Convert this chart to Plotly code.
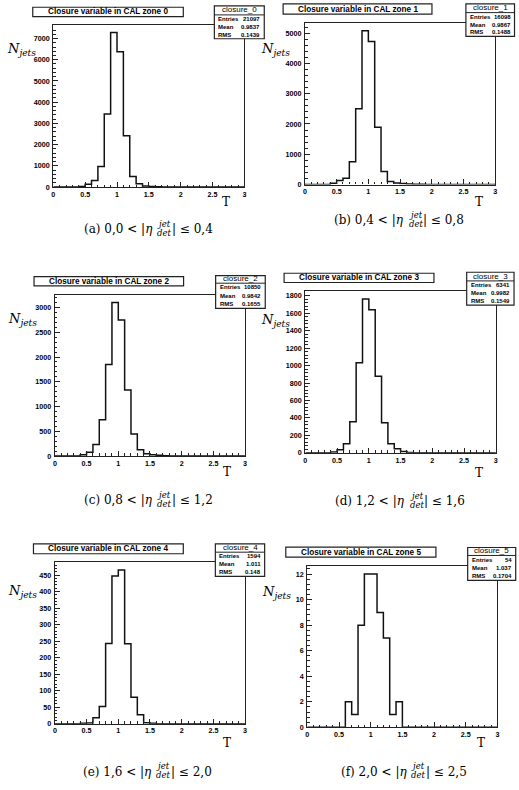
import plotly.graph_objects as go

W, H = 519, 790

# ---------------- data ----------------
bin_edges = [round(i * 0.1, 1) for i in range(31)]  # T from 0 to 3, width 0.1

closure_0 = [0, 0, 0, 0, 30, 130, 310, 970, 3440, 7280, 6380, 2420, 500, 160, 50,
             30, 20, 10, 5, 3, 2, 0, 0, 0, 0, 0, 0, 0, 0, 0]
closure_1 = [0, 0, 0, 0, 40, 130, 210, 755, 2505, 5077, 4726, 1893, 427, 100, 50,
             30, 20, 10, 5, 0, 0, 0, 0, 0, 0, 0, 0, 0, 0, 0]
closure_2 = [0, 0, 0, 0, 27, 80, 233, 733, 1847, 3100, 2747, 1333, 447, 127, 47,
             27, 15, 8, 4, 0, 0, 0, 0, 0, 0, 0, 0, 0, 0, 0]
closure_3 = [0, 0, 0, 0, 8, 34, 103, 357, 1033, 1762, 1641, 877, 346, 103, 46,
             15, 5, 2, 0, 0, 0, 0, 0, 0, 0, 0, 0, 0, 0, 0]
closure_4 = [0, 0, 0, 0, 1, 2, 18, 52, 243, 447, 465, 242, 80, 27, 3,
             1, 0, 0, 0, 0, 0, 0, 0, 0, 0, 0, 0, 0, 0, 0]
closure_5 = [0, 0, 0, 0, 0, 0, 2, 1, 8, 12, 12, 9, 7, 1, 2,
             0, 0, 0, 0, 0, 0, 0, 0, 0, 0, 0, 0, 0, 0, 0]

hist_names = ["closure_0", "closure_1", "closure_2", "closure_3", "closure_4", "closure_5"]
titles = ["Closure variable in CAL zone 0", "Closure variable in CAL zone 1",
          "Closure variable in CAL zone 2", "Closure variable in CAL zone 3",
          "Closure variable in CAL zone 4", "Closure variable in CAL zone 5"]
entries = ["21097", "16098", "10850", "6341", "1594", "54"]
means = ["0.9837", "0.9867", "0.9842", "0.9982", "1.011", "1.037"]
rms = ["0.1439", "0.1488", "0.1655", "0.1549", "0.148", "0.1704"]
cap_letters = ["(a)", "(b)", "(c)", "(d)", "(e)", "(f)"]
eta_low = ["0,0", "0,4", "0,8", "1,2", "1,6", "2,0"]
eta_high = ["0,4", "0,8", "1,2", "1,6", "2,0", "2,5"]
y_dtick = [1000, 1000, 500, 200, 50, 2]
y_minor = [200, 200, 100, 40, 10, 0.4]
x_tickvals = [0, 0.5, 1, 1.5, 2, 2.5, 3]
x_ticktext = ["0", "0.5", "1", "1.5", "2", "2.5", "3"]

all_counts = [closure_0, closure_1, closure_2, closure_3, closure_4, closure_5]

# ---------------- layout geometry (pixels) ----------------
frames = [(51.7, 244.3, 25, 188.3), (305.3, 497, 23.3, 185.7),
          (53.3, 245, 296.7, 459), (305.7, 497.7, 293.3, 455.7),
          (53.3, 245, 566, 728.3), (307.7, 499.3, 570, 732)]
title_boxes = [(31, 182.7, 7.3, 16.7), (283.3, 433.3, 4, 14.3),
               (32.3, 183, 278.3, 287.7), (284.3, 435.3, 275, 284.3),
               (31.7, 182.7, 547.3, 557.3), (286, 437.3, 550.7, 560.7)]
stat_boxes = [(214, 264.3, 6, 15, 39), (467.5, 516.5, 4, 12.7, 36.7),
              (215.3, 265.3, 277.3, 285, 310.3), (468.3, 516, 274, 282.7, 307),
              (215, 264.7, 547.3, 555.7, 580), (469.3, 517.7, 551, 559, 584)]
ylabel_pos = [(20, 50), (275.5, 50), (21, 322), (275.5, 323), (21, 595), (276.5, 596)]
tlabel_pos = [(226, 203), (481, 203), (227, 475), (481, 475.7), (227, 748), (482.7, 748)]
caption_pos = [(147, 230.7), (400.5, 221.7), (147, 503.3), (401.5, 504.3), (146, 776.7), (403, 776.7)]


def fx(p):
    return p / W


def fy(p):
    return 1 - p / H


fig = go.Figure()
shapes = []
annots = []
tick_font = dict(family="Liberation Sans", size=7.2, color="black", weight="bold")
serif = "DejaVu Serif"

for i in range(6):
    n = "" if i == 0 else str(i + 1)
    counts = all_counts[i]
    x0, x1, y0, y1 = frames[i]
    ymax = 1.05 * max(counts)

    fig.add_trace(go.Scatter(
        x=bin_edges, y=counts + [counts[-1]], mode="lines",
        line=dict(shape="hv", color="#111111", width=1.5),
        xaxis="x" + n, yaxis="y" + n, showlegend=False, hoverinfo="skip"))

    fig.update_layout(**{
        "xaxis" + n: dict(
            domain=[fx(x0), fx(x1)], anchor="y" + n, range=[0, 3],
            showgrid=False, zeroline=False, showline=True, mirror=True,
            linecolor="#222222", linewidth=1.2,
            tickmode="array", tickvals=x_tickvals, ticktext=x_ticktext,
            ticks="inside", ticklen=5, tickcolor="#222222", tickwidth=1,
            minor=dict(dtick=0.1, tick0=0, ticks="inside", ticklen=2.5,
                       tickcolor="#222222", tickwidth=1, showgrid=False),
            tickfont=tick_font, ticklabelstandoff=0),
        "yaxis" + n: dict(
            domain=[fy(y1), fy(y0)], anchor="x" + n, range=[0, ymax],
            showgrid=False, zeroline=False, showline=True, mirror=True,
            linecolor="#222222", linewidth=1.2,
            tick0=0, dtick=y_dtick[i], tickformat="d",
            ticks="inside", ticklen=5, tickcolor="#222222", tickwidth=1,
            minor=dict(dtick=y_minor[i], tick0=0, ticks="inside", ticklen=2.5,
                       tickcolor="#222222", tickwidth=1, showgrid=False),
            tickfont=tick_font, ticklabelstandoff=1),
    })

    # title box
    tx0, tx1, ty0, ty1 = title_boxes[i]
    shapes.append(dict(type="rect", xref="paper", yref="paper",
                       x0=fx(tx0), x1=fx(tx1), y0=fy(ty1), y1=fy(ty0),
                       line=dict(color="#222222", width=1.2), fillcolor="white", layer="above"))
    annots.append(dict(x=fx((tx0 + tx1) / 2), y=fy((ty0 + ty1) / 2), xref="paper", yref="paper",
                       text=titles[i], showarrow=False, xanchor="center", yanchor="middle",
                       font=dict(family="Liberation Sans", size=8.2, color="black", weight="bold")))

    # stats box
    sx0, sx1, sy0, sh, sy1 = stat_boxes[i]
    shapes.append(dict(type="rect", xref="paper", yref="paper",
                       x0=fx(sx0), x1=fx(sx1), y0=fy(sy1), y1=fy(sy0),
                       line=dict(color="#222222", width=1.2), fillcolor="white", layer="above"))
    shapes.append(dict(type="line", xref="paper", yref="paper",
                       x0=fx(sx0), x1=fx(sx1), y0=fy(sh), y1=fy(sh),
                       line=dict(color="#222222", width=1), layer="above"))
    annots.append(dict(x=fx((sx0 + sx1) / 2), y=fy((sy0 + sh) / 2 - 0.5), xref="paper", yref="paper",
                       text=hist_names[i], showarrow=False, xanchor="center", yanchor="middle",
                       font=dict(family="Liberation Sans", size=8, color="black")))
    rows = [("Entries", entries[i]), ("Mean", means[i]), ("RMS", rms[i])]
    for k, (lab, val) in enumerate(rows):
        yy = sh + (sy1 - sh) * (k + 0.5) / 3
        annots.append(dict(x=fx(sx0 + 2), y=fy(yy), xref="paper", yref="paper", text=lab,
                           showarrow=False, xanchor="left", yanchor="middle",
                           font=dict(family="Liberation Sans", size=6, color="black", weight="bold")))
        annots.append(dict(x=fx(sx1 - 2), y=fy(yy), xref="paper", yref="paper", text=val,
                           showarrow=False, xanchor="right", yanchor="middle",
                           font=dict(family="Liberation Sans", size=6, color="black", weight="bold")))

    # axis labels
    lx, ly = ylabel_pos[i]
    annots.append(dict(x=fx(lx), y=fy(ly), xref="paper", yref="paper",
                       text="<i>N</i><sub><i>jets</i></sub>", showarrow=False,
                       xanchor="center", yanchor="middle",
                       font=dict(family=serif, size=13, color="black")))
    tx, ty = tlabel_pos[i]
    annots.append(dict(x=fx(tx), y=fy(ty), xref="paper", yref="paper", text="T",
                       showarrow=False, xanchor="center", yanchor="middle",
                       font=dict(family=serif, size=12, color="black")))

    # caption
    cx, cy = caption_pos[i]
    annots.append(dict(x=fx(cx + 7), y=fy(cy), xref="paper", yref="paper",
                       text=f"{cap_letters[i]} {eta_low[i]} &lt; |<i>η</i>", showarrow=False,
                       xanchor="right", yanchor="middle",
                       font=dict(family=serif, size=12, color="black")))
    annots.append(dict(x=fx(cx + 7.5), y=fy(cy - 5.5), xref="paper", yref="paper",
                       text="<i>jet</i>", showarrow=False, xanchor="left", yanchor="middle",
                       font=dict(family=serif, size=8.5, color="black")))
    annots.append(dict(x=fx(cx + 7.5), y=fy(cy + 3.5), xref="paper", yref="paper",
                       text="<i>det</i>", showarrow=False, xanchor="left", yanchor="middle",
                       font=dict(family=serif, size=8.5, color="black")))
    annots.append(dict(x=fx(cx + 22), y=fy(cy), xref="paper", yref="paper",
                       text=f"| ≤ {eta_high[i]}", showarrow=False,
                       xanchor="left", yanchor="middle",
                       font=dict(family=serif, size=12, color="black")))

fig.update_layout(width=W, height=H, margin=dict(l=0, r=0, t=0, b=0),
                  paper_bgcolor="white", plot_bgcolor="white",
                  shapes=shapes, annotations=annots, showlegend=False)

fig.write_html("out.html")
